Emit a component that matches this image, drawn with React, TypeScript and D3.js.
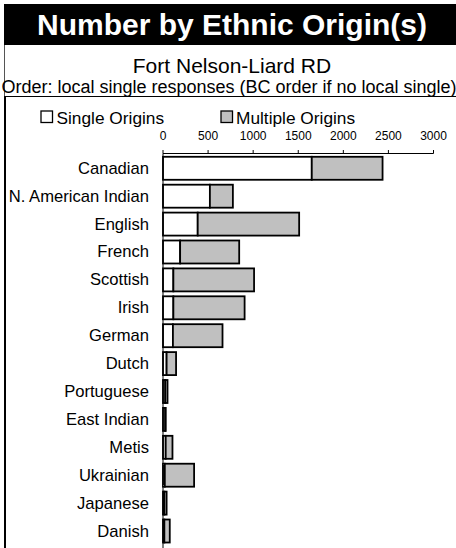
import * as d3 from "d3";

const categories = [
  "Canadian",
  "N. American Indian",
  "English",
  "French",
  "Scottish",
  "Irish",
  "German",
  "Dutch",
  "Portuguese",
  "East Indian",
  "Metis",
  "Ukrainian",
  "Japanese",
  "Danish",
];
const singleOrigins = [1650, 520, 385, 190, 115, 115, 110, 40, 25, 25, 30, 20, 15, 15];
const multipleOrigins = [785, 255, 1125, 655, 895, 790, 550, 105, 25, 5, 75, 325, 25, 60];
const xTicks = [0, 500, 1000, 1500, 2000, 2500, 3000];

const W = 456;
const H = 548;
const FONT = "'Liberation Sans', Arial, sans-serif";

export default function App() {
  const x = d3.scaleLinear().domain([0, 3000]).range([163, 433.5]);
  const y = d3
    .scaleBand<string>()
    .domain(categories)
    .range([154, 545.3])
    .paddingInner(0.176)
    .paddingOuter(0.1);

  const rows = categories.map((c, i) => ({
    c,
    s: singleOrigins[i],
    m: multipleOrigins[i],
  }));

  return (
    <svg
      width={W}
      height={H}
      style={{ position: "absolute", left: 0, top: 0, background: "#fff" }}
      fontFamily={FONT}
    >
      {/* header */}
      <rect x={4} y={4} width={W - 4} height={41} fill="#000" />
      <text x={232} y={34.5} textAnchor="middle" fill="#fff" fontWeight="bold" fontSize={30}>
        Number by Ethnic Origin(s)
      </text>
      <line x1={4.5} x2={4.5} y1={45} y2={H} stroke="#555" strokeWidth={1} />
      <text x={232} y={72.5} textAnchor="middle" fontSize={21}>
        Fort Nelson-Liard RD
      </text>
      <text x={229} y={92.5} textAnchor="middle" fontSize={18}>
        Order: local single responses (BC order if no local single)
      </text>
      <line x1={4} x2={W} y1={96.5} y2={96.5} stroke="#000" strokeWidth={1} />
      <line x1={5} x2={5} y1={97} y2={H} stroke="#000" strokeWidth={2} />

      {/* legend */}
      <rect x={41} y={111} width={11.5} height={11.5} fill="#fff" stroke="#000" strokeWidth={1.3} />
      <text x={56.5} y={123.5} fontSize={17.3}>
        Single Origins
      </text>
      <rect x={221} y={111} width={11.5} height={11.5} fill="#c0c0c0" stroke="#000" strokeWidth={1.3} />
      <text x={236} y={123.5} fontSize={17.3}>
        Multiple Origins
      </text>

      {/* axis */}
      <line x1={x(0)} x2={x(3000)} y1={153.5} y2={153.5} stroke="#000" strokeWidth={1} />
      {xTicks.map((t) => (
        <g key={t}>
          <line x1={x(t)} x2={x(t)} y1={150} y2={153.5} stroke="#000" strokeWidth={1} />
          <text x={x(t)} y={140} textAnchor="middle" fontSize={12}>
            {t}
          </text>
        </g>
      ))}

      {/* bars */}
      {rows.map((r) => {
        const y0 = y(r.c)!;
        const bh = y.bandwidth();
        return (
          <g key={r.c}>
            <rect
              x={x(0)}
              y={y0}
              width={x(r.s) - x(0)}
              height={bh}
              fill="#fff"
              stroke="#000"
              strokeWidth={1.8}
            />
            <rect
              x={x(r.s)}
              y={y0}
              width={x(r.s + r.m) - x(r.s)}
              height={bh}
              fill="#c0c0c0"
              stroke="#000"
              strokeWidth={1.8}
            />
            <text x={149} y={y0 + bh / 2} textAnchor="end" dominantBaseline="central" fontSize={16.6}>
              {r.c}
            </text>
          </g>
        );
      })}
      <line x1={x(0)} x2={x(0)} y1={153.5} y2={H} stroke="#000" strokeWidth={1} />
    </svg>
  );
}
